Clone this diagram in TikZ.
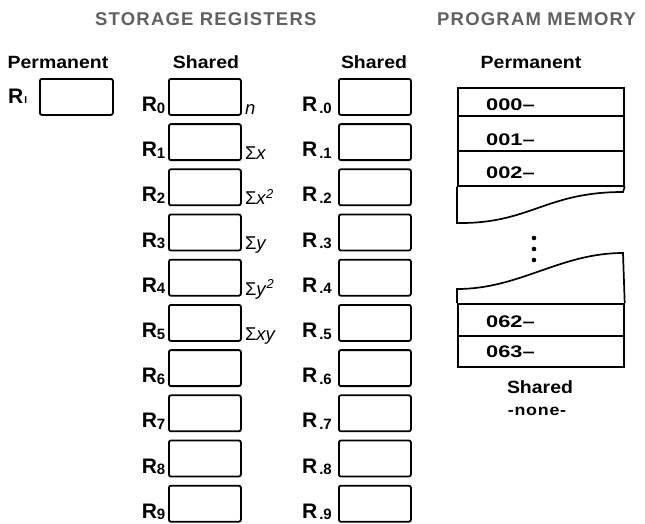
\documentclass[tikz,border=0pt]{standalone}
\usepackage{fontspec}
\setmainfont{Liberation Sans}
\newfontfamily\hdfont[FakeStretch=1.1]{Liberation Sans}
\newfontfamily\ttlfont[LetterSpace=6.5]{Liberation Sans}
\newfontfamily\dgfont[FakeStretch=1.3]{Liberation Sans}
\newfontfamily\nnfont[FakeStretch=1.15,LetterSpace=5]{Liberation Sans}
\begin{document}
\begin{tikzpicture}[x=1pt,y=-1pt,
  regbox/.style={draw, line width=1.8pt, rounded corners=2pt, minimum width=72pt,
    minimum height=36pt, inner sep=0pt, anchor=north west},
  rlab/.style={anchor=base east, inner sep=0pt, font=\fontsize{21}{21}\selectfont\bfseries},
  ann/.style={anchor=base west, inner sep=0pt, font=\fontsize{18.5}{18.5}\selectfont},
  head/.style={anchor=base, inner sep=0pt, font=\hdfont\fontsize{17.7}{17.7}\selectfont\bfseries},
  ttl/.style={anchor=base west, inner sep=0pt, text=black!62, font=\ttlfont\fontsize{18.5}{18.5}\selectfont\bfseries},
  memrow/.style={draw, line width=1.7pt, minimum width=166pt, inner sep=0pt, anchor=north west},
  memline/.style={draw, line width=1.7pt},
  memtxt/.style={anchor=base west, inner sep=0pt, font=\dgfont\fontsize{16.8}{16.8}\selectfont\bfseries},
  dot/.style={circle, fill, inner sep=0pt, minimum size=4.6pt}
]
\useasboundingbox (0,0) rectangle (645,523);

% titles
\node[ttl] (T1) at (95,25) {STORAGE REGISTERS};
\node[ttl] (T2) at (437,25) {PROGRAM MEMORY};

% column headers
\node[head] (h1) at (58,68) {Permanent};
\node[head] (h2) at (206,68) {Shared};
\node[head] (h3) at (374,68) {Shared};
\node[head] (h4) at (531,68) {Permanent};

% permanent register
\node[regbox, minimum width=73pt] (ri) at (39,78) {};
\node[anchor=base west, inner sep=0pt, font=\fontsize{21}{21}\selectfont\bfseries] (li) at (8,103)
  {R\kern1pt{\fontsize{10}{10}\selectfont I}};

% shared registers
\foreach \i in {0,...,9} {
  \pgfmathsetmacro\t{78+45.2*\i}
  \node[regbox] (a\i) at (168,\t) {};
  \node[regbox] (b\i) at (338,\t) {};
  \node[rlab] (la\i) at (165.5,\t+33.5) {R\raisebox{-1.5pt}{\fontsize{15}{15}\selectfont\i}};
  \node[rlab] (lb\i) at (332,\t+33.5) {R\kern2pt\raisebox{-1.5pt}{\fontsize{15}{15}\selectfont.\i}};
}

% statistics annotations
\node[ann] (n0) at ([shift={(3,-1.5)}]a0.south east) {\textit{n}};
\node[ann] (n1) at ([shift={(3,-1.5)}]a1.south east) {Σ\textit{x}};
\node[ann] (n2) at ([shift={(3,-1.5)}]a2.south east) {Σ\textit{x}\textsuperscript{\textit{2}}};
\node[ann] (n3) at ([shift={(3,-1.5)}]a3.south east) {Σ\textit{y}};
\node[ann] (n4) at ([shift={(3,-1.5)}]a4.south east) {Σ\textit{y}\textsuperscript{\textit{2}}};
\node[ann] (n5) at ([shift={(3,-1.5)}]a5.south east) {Σ\textit{xy}};

% program memory
\node[memrow, minimum height=28pt] (m0) at (457,87) {};
\node[memrow, minimum height=35pt] (m1) at (457,115) {};
\node[memrow, minimum height=35pt] (m2) at (457,150) {};
\draw[memline] (m2.south west) -- (457,223) .. controls (530,224) and (545,192) .. (623,192) -- (m2.south east);

\node[dot] (d1) at (534,238) {};
\node[dot] (d2) at (534,249) {};
\node[dot] (d3) at (534,260) {};

\node[memrow, minimum height=32pt] (m62) at (457,303) {};
\node[memrow, minimum height=31pt] (m63) at (457,335) {};
\draw[memline] (m62.north west) -- (457,289) .. controls (520,289) and (560,253) .. (623,253) -- (m62.north east);

\node[memtxt] (t0) at (486,110) {000–};
\node[memtxt] (t1) at (486,145) {001–};
\node[memtxt] (t2) at (486,178) {002–};
\node[memtxt] (t62) at (486,327) {062–};
\node[memtxt] (t63) at (486,357) {063–};

\node[head] (h5) at (540,393) {Shared};
\node[anchor=base, inner sep=0pt, font=\nnfont\fontsize{15.5}{15.5}\selectfont\bfseries] (h6) at (537,415) {-none-};
\end{tikzpicture}
\end{document}
